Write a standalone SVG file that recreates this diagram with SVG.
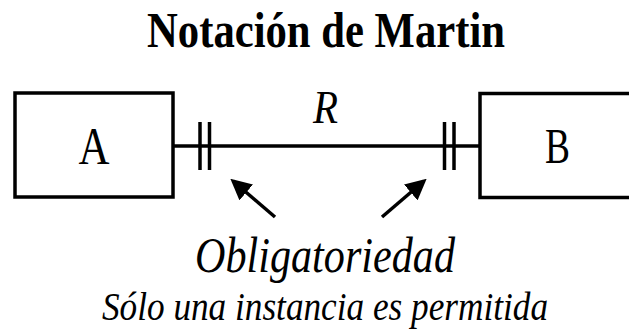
<svg xmlns="http://www.w3.org/2000/svg" width="629" height="331" viewBox="0 0 629 331">
<style>
.box{fill:#fff;stroke:#000;stroke-width:3.5}
.ln{stroke:#000;stroke-width:3.5;fill:none}
.tk{stroke:#000;stroke-width:3.5}
.ar{stroke:#000;stroke-width:3.5;fill:none}
.serif{font-family:"Liberation Serif","Times New Roman","DejaVu Serif",serif;fill:#000}
</style>
<defs>
<marker id="ah" markerWidth="6" markerHeight="6" refX="5" refY="3" orient="auto" markerUnits="strokeWidth" viewBox="0 0 6 6">
<path d="M0,0 L6,3 L0,6 Z" fill="#000"/>
</marker>
</defs>
<text class="serif" x="326" y="47" font-size="50" font-weight="bold" text-anchor="middle" textLength="358" lengthAdjust="spacingAndGlyphs">Notación de Martin</text>
<g id="connectors">
<line class="ln" x1="173" y1="146" x2="480" y2="146"/>
<line class="tk" x1="200" y1="122" x2="200" y2="170"/>
<line class="tk" x1="209.5" y1="122" x2="209.5" y2="170"/>
<line class="tk" x1="444.5" y1="122" x2="444.5" y2="170"/>
<line class="tk" x1="454" y1="122" x2="454" y2="170"/>
<text class="serif" x="325.5" y="123" font-size="46" font-style="italic" text-anchor="middle" textLength="25" lengthAdjust="spacingAndGlyphs">R</text>
</g>
<g id="A">
<rect class="box" x="15" y="93" width="158" height="104"/>
<text class="serif" x="94" y="164" font-size="52" text-anchor="middle" textLength="31" lengthAdjust="spacingAndGlyphs">A</text>
</g>
<g id="B">
<rect class="box" x="480" y="93.5" width="160" height="104"/>
<text class="serif" x="557.5" y="163" font-size="50" text-anchor="middle" textLength="25" lengthAdjust="spacingAndGlyphs">B</text>
</g>
<g id="arrows">
<line class="ar" x1="275" y1="217" x2="233" y2="181" marker-end="url(#ah)"/>
<line class="ar" x1="382" y1="217" x2="424" y2="181" marker-end="url(#ah)"/>
</g>
<g id="labels">
<text class="serif" x="325" y="272" font-size="50" font-style="italic" text-anchor="middle" textLength="260" lengthAdjust="spacingAndGlyphs">Obligatoriedad</text>
<text class="serif" x="325" y="320" font-size="39" font-style="italic" text-anchor="middle" textLength="446" lengthAdjust="spacingAndGlyphs">Sólo una instancia es permitida</text>
</g>
</svg>
